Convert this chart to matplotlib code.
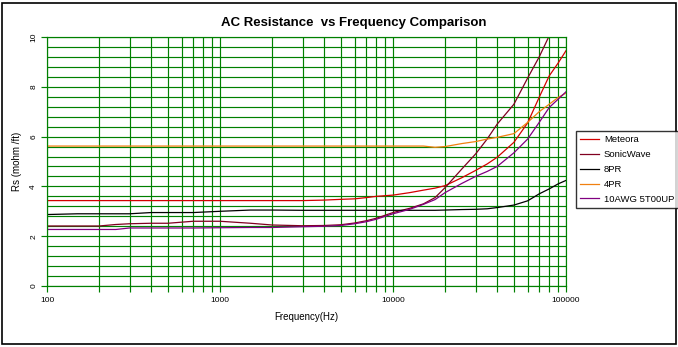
import matplotlib
matplotlib.use("Agg")
import matplotlib.pyplot as plt
from matplotlib.patches import Rectangle
from matplotlib.ticker import LogLocator, FixedLocator, NullFormatter, FuncFormatter

plt.rcParams['font.family'] = ['Liberation Sans', 'DejaVu Sans']

freq = [100, 150, 200, 250, 300, 400, 500, 700, 1000, 1500, 2000, 3000, 4000, 5000,
        6000, 7000, 8000, 10000, 12500, 15000, 17500, 20000, 25000, 30000, 35000,
        40000, 50000, 60000, 70000, 80000, 90000, 100000]

meteora = [3.43, 3.43, 3.43, 3.43, 3.43, 3.43, 3.43, 3.43, 3.43, 3.43, 3.43, 3.43, 3.45, 3.48,
           3.5, 3.55, 3.6, 3.65, 3.75, 3.85, 3.93, 4.03, 4.35, 4.64, 4.9,
           5.17, 5.77, 6.55, 7.58, 8.44, 8.95, 9.45]
sonicwave = [2.41, 2.41, 2.41, 2.47, 2.5, 2.52, 2.52, 2.6, 2.6, 2.52, 2.45, 2.42, 2.43, 2.46,
             2.53, 2.62, 2.72, 2.95, 3.12, 3.3, 3.55, 3.95, 4.7, 5.3, 5.9,
             6.5, 7.3, 8.35, 9.2, 10.05, 10.8, 11.5]
pr8 = [2.87, 2.9, 2.9, 2.9, 2.9, 2.95, 2.95, 2.95, 3.0, 3.05, 3.05, 3.04, 3.04, 3.04,
       3.04, 3.04, 3.04, 3.04, 3.04, 3.04, 3.04, 3.05, 3.07, 3.08, 3.1,
       3.15, 3.25, 3.42, 3.7, 3.9, 4.1, 4.24]
pr4 = [5.62, 5.62, 5.62, 5.62, 5.62, 5.62, 5.62, 5.62, 5.62, 5.62, 5.62, 5.62, 5.62, 5.62,
       5.62, 5.62, 5.62, 5.62, 5.62, 5.62, 5.57, 5.6, 5.72, 5.8, 5.9,
       5.97, 6.12, 6.57, 7.0, 7.3, 7.57, 7.75]
awg10 = [2.27, 2.27, 2.27, 2.27, 2.33, 2.33, 2.33, 2.33, 2.34, 2.35, 2.35, 2.38, 2.4, 2.43,
         2.5, 2.58, 2.68, 2.9, 3.08, 3.28, 3.47, 3.75, 4.12, 4.4, 4.6,
         4.8, 5.35, 5.9, 6.57, 7.17, 7.5, 7.8]

series = [
    ("Meteora", meteora, "#D40000"),
    ("SonicWave", sonicwave, "#800020"),
    ("8PR", pr8, "#000000"),
    ("4PR", pr4, "#F08010"),
    ("10AWG 5T00UP", awg10, "#800080"),
]

W, H = 678, 347
fig = plt.figure(figsize=(W / 100, H / 100), dpi=100)
L, R, T, B = 47, 566, 37, 286
ax = fig.add_axes([L / W, 1 - B / H, (R - L) / W, (B - T) / H])

green = "#008000"
for name, vals, col in series:
    ax.plot(freq, vals, color=col, lw=0.9, label=name, clip_on=True)

ax.set_xscale("log")
ax.set_xlim(100, 100000)
ax.set_ylim(0, 10)
ax.xaxis.set_major_locator(FixedLocator([100, 1000, 10000, 100000]))
ax.xaxis.set_major_formatter(FuncFormatter(lambda v, p: f"{int(round(v))}"))
ax.xaxis.set_minor_locator(LogLocator(base=10, subs=range(2, 10)))
ax.xaxis.set_minor_formatter(NullFormatter())
ax.yaxis.set_major_locator(FixedLocator([0, 2, 4, 6, 8, 10]))
ax.yaxis.set_minor_locator(FixedLocator([i * 0.4 for i in range(26)]))

ax.grid(True, which="both", axis="both", color=green, lw=0.85)
ax.set_axisbelow(True)
for s in ax.spines.values():
    s.set_color(green)
    s.set_linewidth(0.85)

ax.tick_params(axis="x", which="major", length=4, width=0.85, color=green, labelsize=6, pad=4)
ax.tick_params(axis="x", which="minor", length=4, width=0.85, color=green)
ax.tick_params(axis="y", which="major", length=4, width=0.85, color=green, labelsize=6, pad=3)
ax.tick_params(axis="y", which="minor", length=0)
for lab in ax.get_yticklabels():
    lab.set_rotation(90)
    lab.set_va("center")

ax.set_xlabel("Frequency(Hz)", fontsize=7, labelpad=6)
ax.set_ylabel("Rs (mohm /ft)", fontsize=7, labelpad=6)

fig.text(354 / W, 1 - 23 / H, "AC Resistance  vs Frequency Comparison",
         ha="center", va="center", fontsize=9.5, fontweight="bold")

leg = fig.legend(loc="upper left", bbox_to_anchor=(576 / W, 1 - 131 / H),
                 fontsize=6.8, frameon=True, fancybox=False, borderpad=0.45,
                 handlelength=2.0, handletextpad=0.5, labelspacing=0.62,
                 borderaxespad=0)
leg.get_frame().set_edgecolor("black")
leg.get_frame().set_linewidth(1.0)

fig.patches.append(Rectangle((2 / W, 3 / H), 674 / W, 341 / H, transform=fig.transFigure,
                             fill=False, edgecolor="black", lw=1.2))

fig.savefig("out.png", dpi=100)
